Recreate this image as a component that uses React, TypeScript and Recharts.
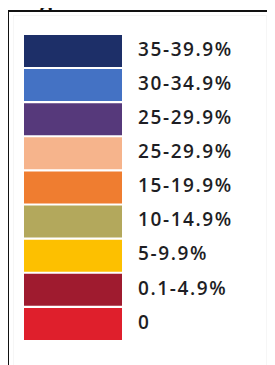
import { BarChart, Bar, XAxis, YAxis, Cell, LabelList } from 'recharts';

const ranges = ['35-39.9%', '30-34.9%', '25-29.9%', '25-29.9%', '15-19.9%', '10-14.9%', '5-9.9%', '0.1-4.9%', '0'];
const swatchColors = ['#1d2f68', '#4472c4', '#56397b', '#f6b48c', '#ef7d30', '#b3a85c', '#fdc000', '#9f1b2f', '#df1f2c'];
const swatchValues = [1, 1, 1, 1, 1, 1, 1, 1, 1];

const rows = ranges.map((label, i) => ({ label, value: swatchValues[i] }));

export default function App() {
  return (
    <div
      style={{
        position: 'relative',
        width: 275,
        height: 365,
        margin: '-8px 0 0 -8px',
        overflow: 'hidden',
        background: '#fff',
        fontFamily: '"Open Sans", sans-serif',
      }}
    >
      {/* outer frame */}
      <div
        style={{
          position: 'absolute',
          left: 7,
          top: 10,
          width: 320,
          height: 400,
          borderTop: '2px solid #111',
          borderLeft: '2px solid #111',
        }}
      />
      {/* faint inner frame */}
      <div
        style={{
          position: 'absolute',
          left: 13,
          top: 15,
          width: 252,
          height: 400,
          border: '1px solid #f6f6f6',
        }}
      />
      <div style={{ position: 'absolute', left: 0, top: 0 }}>
        <BarChart
          width={275}
          height={365}
          layout="vertical"
          data={rows}
          margin={{ top: 34, right: 153, bottom: 24, left: 24 }}
        >
          <XAxis type="number" domain={[0, 1]} hide />
          <YAxis type="category" dataKey="label" hide />
          <Bar dataKey="value" barSize={32} isAnimationActive={false}>
            {rows.map((r, i) => (
              <Cell key={i} fill={swatchColors[i]} />
            ))}
            <LabelList
              dataKey="label"
              position="right"
              offset={16}
              style={{
                fill: '#1e1e24',
                fontSize: 19,
                fontWeight: 600,
                letterSpacing: 1.6,
                fontFamily: '"Open Sans", sans-serif',
                transform: 'translateY(-2px)',
              }}
            />
          </Bar>
        </BarChart>
      </div>
      {/* title, mostly cut off at the top */}
      <svg width={275} height={12} style={{ position: 'absolute', left: 0, top: 0 }}>
        <text x={16} y={8} fontSize={21} fontWeight={700} fill="#111" fontFamily='"Open Sans", sans-serif'>
          Legend
        </text>
      </svg>
    </div>
  );
}
